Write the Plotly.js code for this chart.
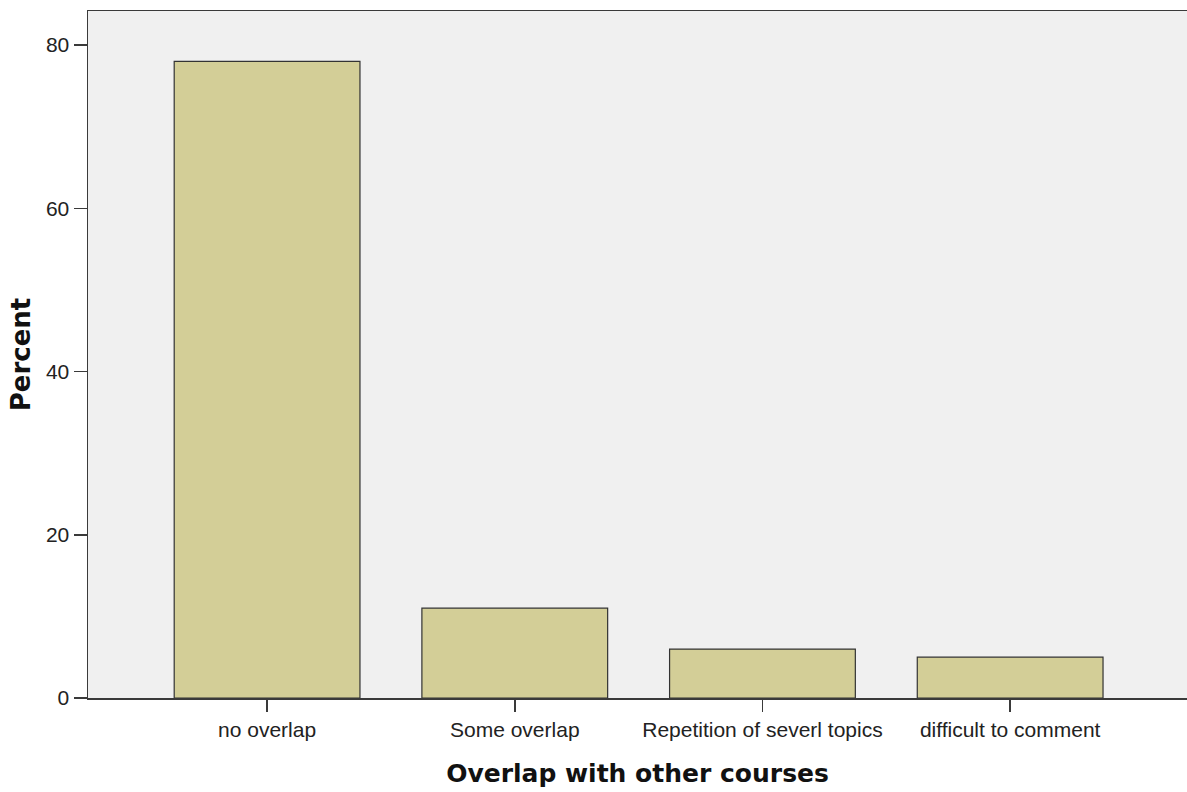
<!DOCTYPE html>
<html>
<head>
<meta charset="utf-8">
<script src="https://cdn.plot.ly/plotly-3.0.1.min.js"></script>
<style>
  html, body { margin: 0; padding: 0; background: #ffffff; }
  #chart { width: 1187px; height: 792px; }
</style>
</head>
<body>
<div id="chart"></div>
<script>
const categories = ["no overlap", "Some overlap", "Repetition of severl topics", "difficult to comment"];
const percentValues = [78, 11, 6, 5];
const yTickValues = [0, 20, 40, 60, 80];

const trace = {
  type: "bar",
  x: categories,
  y: percentValues,
  marker: {
    color: "#d3ce97",
    line: { color: "#333333", width: 1.2 }
  },
  hoverinfo: "x+y"
};

const layout = {
  width: 1187,
  height: 792,
  margin: { l: 88, r: 0, t: 11, b: 94, pad: 0 },
  paper_bgcolor: "#ffffff",
  plot_bgcolor: "#f0f0f0",
  bargap: 0.25,
  showlegend: false,
  font: { family: "Liberation Sans, Arial, sans-serif", color: "#222222" },
  xaxis: {
    type: "category",
    range: [-0.723, 3.714],
    showgrid: false,
    zeroline: false,
    showline: true,
    mirror: true,
    linecolor: "#3a3a3a",
    linewidth: 1.5,
    ticks: "outside",
    ticklen: 12,
    tickwidth: 1.5,
    tickcolor: "#3a3a3a",
    tickfont: { family: "Liberation Sans, Arial, sans-serif", size: 21, color: "#222222" },
    automargin: false,
    title: {
      text: "Overlap with other courses",
      font: { family: "DejaVu Sans, sans-serif", size: 25, color: "#111111", weight: "bold" },
      standoff: 25
    }
  },
  yaxis: {
    range: [0, 84.17],
    tickvals: yTickValues,
    showgrid: false,
    zeroline: false,
    showline: true,
    linecolor: "#3a3a3a",
    linewidth: 1.5,
    ticks: "outside",
    ticklen: 13,
    tickwidth: 1.5,
    tickcolor: "#3a3a3a",
    tickfont: { family: "Liberation Sans, Arial, sans-serif", size: 21, color: "#222222" },
    automargin: false,
    title: {
      text: "Percent",
      font: { family: "DejaVu Sans, sans-serif", size: 26, color: "#111111", weight: "bold" },
      standoff: 8
    }
  }
};

Plotly.newPlot("chart", [trace], layout, { displayModeBar: false, staticPlot: true });
</script>
</body>
</html>
